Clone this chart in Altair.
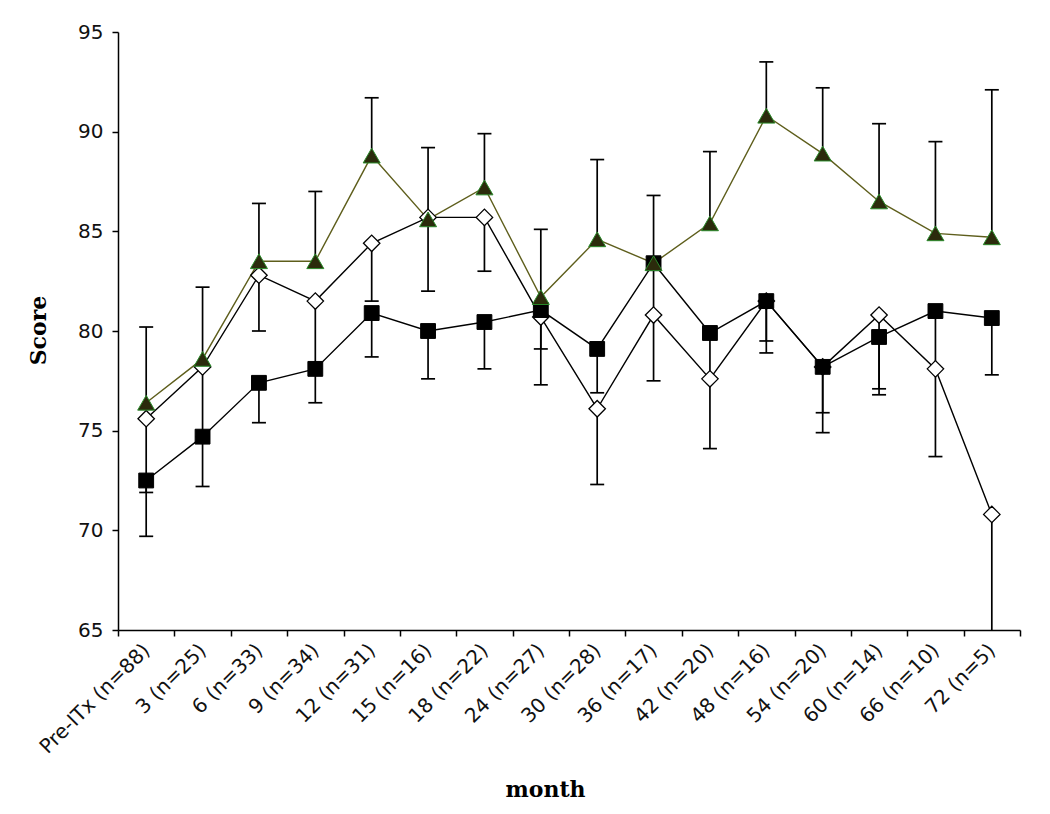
import altair as alt
import pandas as pd

months = ["Pre-ITx (n=88)", "3 (n=25)", "6 (n=33)", "9 (n=34)", "12 (n=31)",
          "15 (n=16)", "18 (n=22)", "24 (n=27)", "30 (n=28)", "36 (n=17)",
          "42 (n=20)", "48 (n=16)", "54 (n=20)", "60 (n=14)", "66 (n=10)", "72 (n=5)"]

tri = [76.4, 78.6, 83.5, 83.5, 88.8, 85.6, 87.2, 81.7, 84.6, 83.4, 85.4, 90.8, 88.9, 86.5, 84.9, 84.7]
tri_hi = [80.2, 82.2, 86.4, 87.0, 91.7, 89.2, 89.9, 85.1, 88.6, 86.8, 89.0, 93.5, 92.2, 90.4, 89.5, 92.1]

dia = [75.6, 78.2, 82.8, 81.5, 84.4, 85.7, 85.7, 80.7, 76.1, 80.8, 77.6, 81.5, 78.2, 80.8, 78.1, 70.8]
dia_lo = [69.7, 74.7, 80.0, 78.1, 81.5, 82.0, 83.0, 77.3, 72.3, 77.5, 74.1, 78.9, 74.9, 76.8, 73.7, 63.0]

sq = [72.5, 74.7, 77.4, 78.1, 80.9, 80.0, 80.45, 81.05, 79.1, 83.4, 79.9, 81.5, 78.2, 79.7, 81.0, 80.65]
sq_lo = [71.9, 72.2, 75.4, 76.4, 78.7, 77.6, 78.1, 79.1, 76.9, 80.8, 77.6, 79.5, 75.9, 77.1, 78.1, 77.8]

rows = []
for i, m in enumerate(months):
    rows.append({"idx": i, "month": m, "series": "tri", "score": tri[i], "err": tri_hi[i]})
    rows.append({"idx": i, "month": m, "series": "dia", "score": dia[i], "err": dia_lo[i]})
    rows.append({"idx": i, "month": m, "series": "sq", "score": sq[i], "err": sq_lo[i]})
df = pd.DataFrame(rows)

xaxis = alt.Axis(
    labelAngle=315, labelAlign="right", labelBaseline="middle",
    labelFont="DejaVu Sans", labelFontSize=20, labelColor="#111111", labelPadding=11,
    tickBand="extent", tickSize=6, tickColor="black", tickWidth=1.5,
    domainColor="black", domainWidth=1.5, grid=False, labelOverlap=False,
    titleFont="DejaVu Serif", titleFontWeight="bold", titleFontSize=22, titleColor="black",
    titleX=427, titleY=166, titleAlign="center", titleBaseline="alphabetic",
)
yaxis = alt.Axis(
    values=[65, 70, 75, 80, 85, 90, 95],
    labelFont="DejaVu Sans", labelFontSize=20, labelColor="#111111", labelPadding=9,
    tickSize=6, tickColor="black", tickWidth=1.5,
    domainColor="black", domainWidth=1.5, grid=False,
    titleFont="DejaVu Serif", titleFontWeight="bold", titleFontSize=22, titleColor="black",
    titleX=-80, titleY=298, titleAngle=270, titleAlign="center", titleBaseline="middle",
)

xscale = alt.Scale(type="band", paddingInner=0, paddingOuter=0)
yscale = alt.Scale(domain=[65, 95], nice=False, zero=False)

xenc = alt.X("month:N", sort=months, scale=xscale, axis=xaxis, title="month")

def yenc(field):
    return alt.Y(field, type="quantitative", scale=yscale, axis=yaxis, title="Score")

base = alt.Chart(df)

rules = base.mark_rule(color="black", strokeWidth=1.7, clip=True).encode(
    x=xenc, y=yenc("score"), y2="err:Q")
caps = base.mark_tick(color="black", thickness=1.7, size=14, orient="horizontal",
                      clip=True, opacity=1).encode(x=xenc, y=yenc("err"))

def line(series, color):
    return base.transform_filter(alt.datum.series == series).mark_line(
        color=color, strokeWidth=1.4).encode(
        x=xenc, y=yenc("score"), order=alt.Order("idx:Q"))

dia_pts = base.transform_filter(alt.datum.series == "dia").mark_point(
    shape="diamond", filled=True, fill="white", stroke="black", strokeWidth=1.3,
    size=270, opacity=1).encode(x=xenc, y=yenc("score"))
sq_pts = base.transform_filter(alt.datum.series == "sq").mark_point(
    shape="square", filled=True, fill="black", stroke="black", strokeWidth=1,
    size=220, opacity=1).encode(x=xenc, y=yenc("score"))
tri_pts = base.transform_filter(alt.datum.series == "tri").mark_point(
    shape="triangle-up", filled=True, fill="#2b2b0c", stroke="#2a8a2a", strokeWidth=1,
    size=290, opacity=1).encode(x=xenc, y=yenc("score"))

chart = alt.layer(
    rules, caps,
    line("dia", "black"), line("sq", "black"), line("tri", "#5e5e1c"),
    dia_pts, sq_pts, tri_pts,
).properties(
    width=902, height=598,
    autosize=alt.AutoSizeParams(type="none"),
    padding={"left": 110, "top": 24, "right": 20, "bottom": 172},
    background="white",
).configure_view(stroke=None)

chart.save("out.html", embed_options={"renderer": "svg", "actions": False})
